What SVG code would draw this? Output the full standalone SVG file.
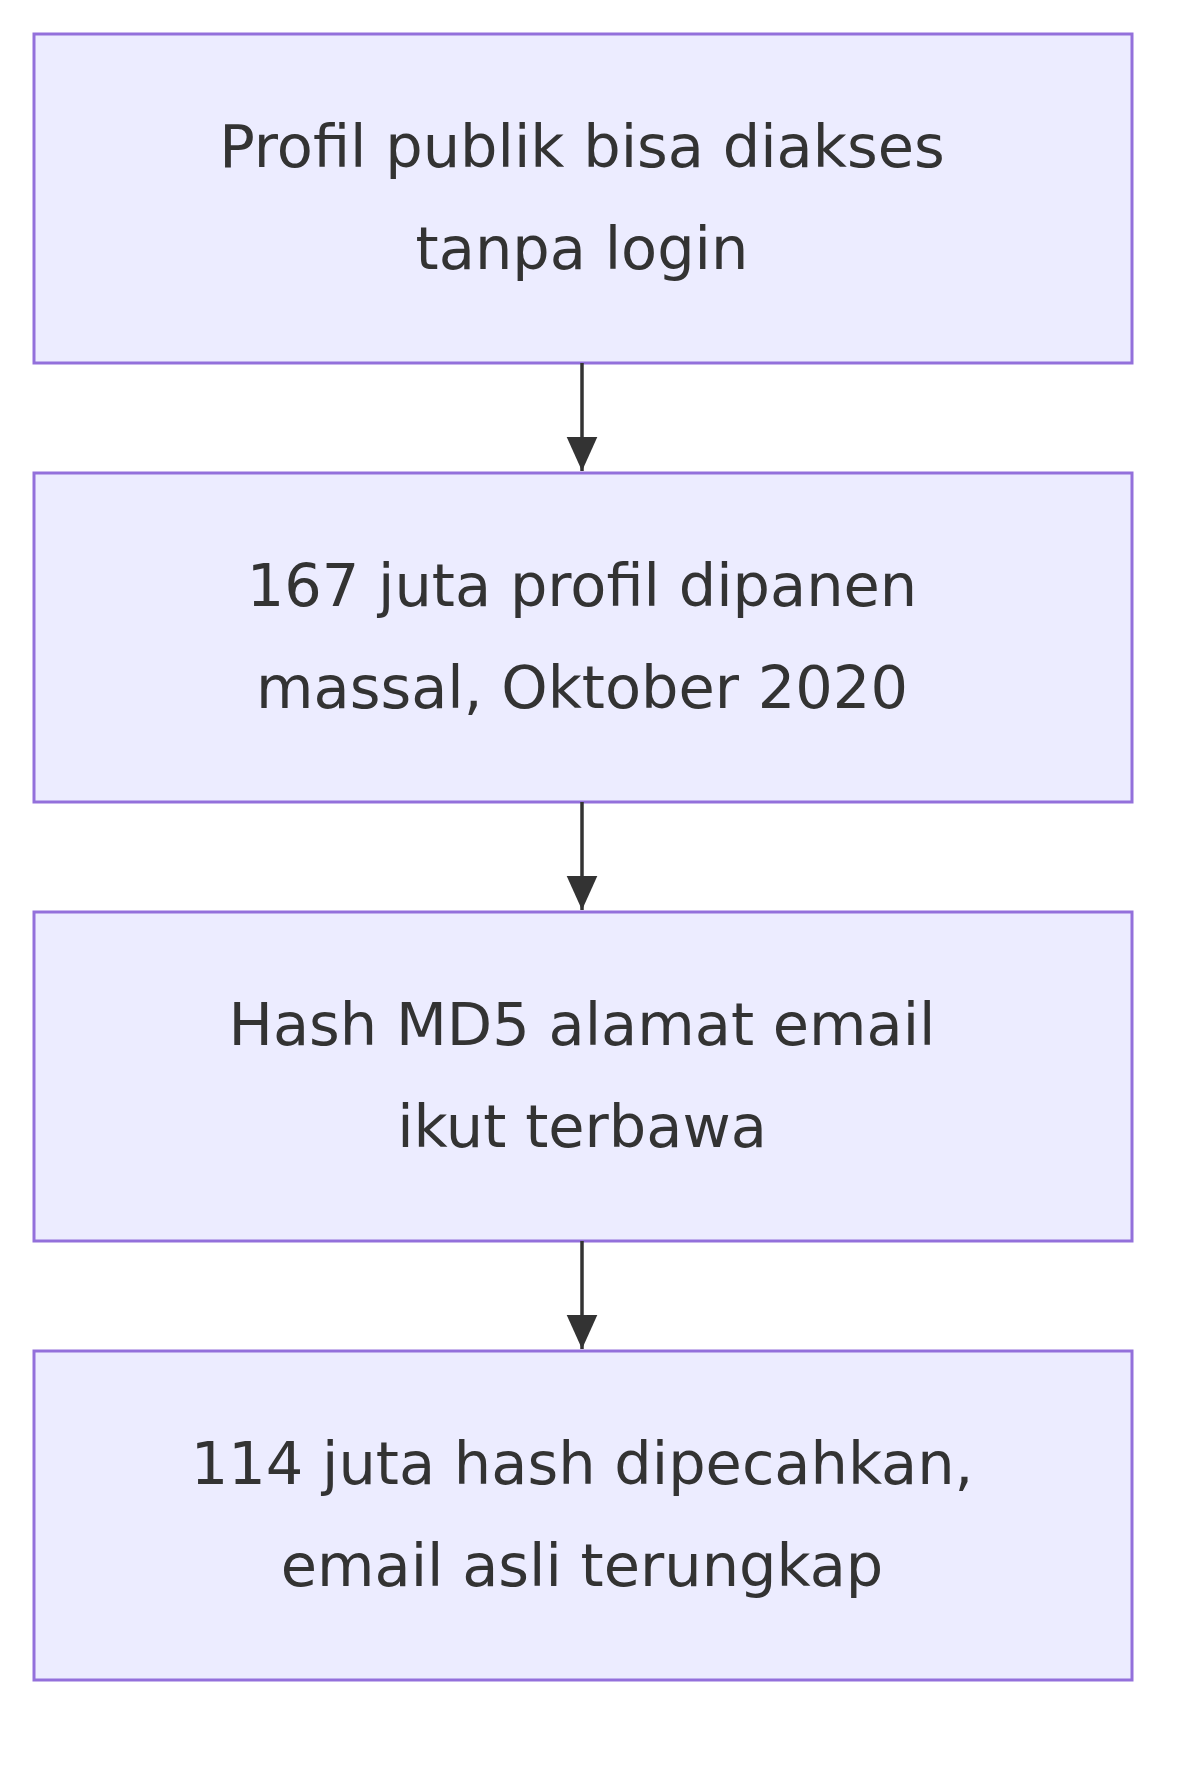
<svg xmlns="http://www.w3.org/2000/svg" width="1200" height="1765" viewBox="0 0 1200 1765">
<style>
.n{fill:#ECECFF;stroke:#9370DB;stroke-width:3}
.t{font-family:"DejaVu Sans",sans-serif;font-size:59px;fill:#333;text-anchor:middle}
.e{stroke:#333;stroke-width:3.5;fill:none}
</style>
<defs><marker id="a" viewBox="0 0 10 10" refX="10" refY="5" markerWidth="34" markerHeight="34" markerUnits="userSpaceOnUse" orient="auto"><path d="M0,0.5L10,5L0,9.5z" fill="#333"/></marker></defs>
<rect width="1200" height="1765" fill="#fff"/>
<g id="n1"><rect class="n" x="34" y="34" width="1098" height="329"/><text class="t" x="582" y="167">Profil publik bisa diakses</text><text class="t" x="582" y="269">tanpa login</text></g>
<g id="n2"><rect class="n" x="34" y="473" width="1098" height="329"/><text class="t" x="582" y="606">167 juta profil dipanen</text><text class="t" x="582" y="708">massal, Oktober 2020</text></g>
<g id="n3"><rect class="n" x="34" y="912" width="1098" height="329"/><text class="t" x="582" y="1045">Hash MD5 alamat email</text><text class="t" x="582" y="1147">ikut terbawa</text></g>
<g id="n4"><rect class="n" x="34" y="1351" width="1098" height="329"/><text class="t" x="582" y="1484">114 juta hash dipecahkan,</text><text class="t" x="582" y="1586">email asli terungkap</text></g>
<g id="edges">
<path class="e" d="M582,363V471" marker-end="url(#a)"/>
<path class="e" d="M582,802V910" marker-end="url(#a)"/>
<path class="e" d="M582,1241V1349" marker-end="url(#a)"/>
</g>
</svg>
